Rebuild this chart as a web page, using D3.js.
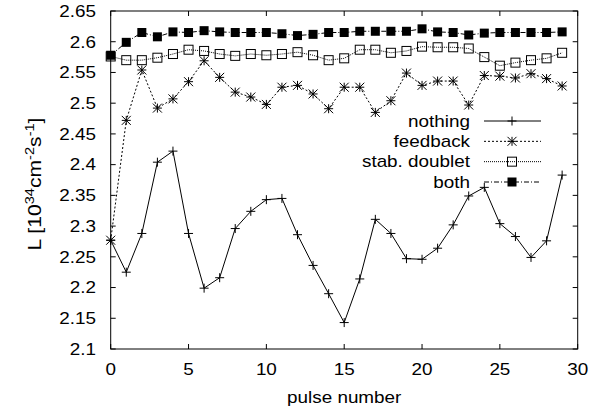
<!DOCTYPE html>
<html><head><meta charset="utf-8">
<script src="https://cdn.jsdelivr.net/npm/d3@7"></script>
<style>body{margin:0;background:#fff} text{font-family:"Liberation Sans",Arial,Helvetica,sans-serif;fill:#000}</style>
</head><body><svg id="c" width="597" height="418"></svg>
<script>
const pulses = [0,1,2,3,4,5,6,7,8,9,10,11,12,13,14,15,16,17,18,19,20,21,22,23,24,25,26,27,28,29];
const nothing = [2.277,2.225,2.288,2.404,2.422,2.288,2.199,2.216,2.296,2.324,2.343,2.345,2.286,2.236,2.190,2.143,2.214,2.311,2.288,2.247,2.246,2.264,2.302,2.349,2.363,2.304,2.283,2.249,2.276,2.383];
const feedback = [2.277,2.472,2.554,2.492,2.507,2.535,2.569,2.542,2.518,2.510,2.498,2.526,2.529,2.515,2.491,2.526,2.526,2.485,2.504,2.549,2.529,2.536,2.536,2.497,2.545,2.544,2.541,2.548,2.540,2.528];
const stabDoublet = [2.576,2.570,2.570,2.574,2.580,2.587,2.585,2.580,2.577,2.580,2.578,2.580,2.583,2.578,2.570,2.573,2.587,2.587,2.582,2.585,2.592,2.591,2.591,2.589,2.575,2.561,2.566,2.570,2.573,2.582];
const both = [2.578,2.599,2.615,2.608,2.616,2.615,2.618,2.616,2.615,2.615,2.615,2.613,2.610,2.612,2.615,2.615,2.617,2.617,2.617,2.617,2.621,2.616,2.615,2.611,2.614,2.615,2.615,2.615,2.615,2.616];
const seriesNames = ["nothing","feedback","stab. doublet","both"];
const xTicks = [0,5,10,15,20,25,30];
const yTicks = [2.1,2.15,2.2,2.25,2.3,2.35,2.4,2.45,2.5,2.55,2.6,2.65];
const yTickLabels = ["2.1","2.15","2.2","2.25","2.3","2.35","2.4","2.45","2.5","2.55","2.6","2.65"];

const SX = 1.18, FS = 16;
const svg = d3.select("#c");
const x = d3.scaleLinear().domain([0,30]).range([110.7,577.7]);
const y = d3.scaleLinear().domain([2.1,2.65]).range([349,11]);
const L = x.range()[0], R = x.range()[1], T = y.range()[1], B = y.range()[0];

function stext(g, tx, ty, str, anchor){
  return g.append("text").attr("transform",`translate(${tx},${ty}) scale(${SX},1)`)
    .attr("text-anchor",anchor).style("font-size",FS+"px").text(str);
}

// ticks (inward on all four sides)
const tk = 5;
const axes = svg.append("g").attr("stroke","#000").attr("stroke-width",1);
xTicks.forEach(v=>{
  axes.append("line").attr("x1",x(v)).attr("x2",x(v)).attr("y1",B).attr("y2",B-tk);
  axes.append("line").attr("x1",x(v)).attr("x2",x(v)).attr("y1",T).attr("y2",T+tk);
});
yTicks.forEach(v=>{
  axes.append("line").attr("x1",L).attr("x2",L+tk).attr("y1",y(v)).attr("y2",y(v));
  axes.append("line").attr("x1",R).attr("x2",R-tk).attr("y1",y(v)).attr("y2",y(v));
});
svg.append("rect").attr("x",L).attr("y",T).attr("width",R-L).attr("height",B-T)
  .attr("fill","none").attr("stroke","#000").attr("stroke-width",1);

// tick labels
xTicks.forEach(v=> stext(svg, x(v), 375, String(v), "middle"));
yTicks.forEach((v,i)=> stext(svg, 96, y(v)+5.8, yTickLabels[i], "end"));

// axis titles
stext(svg, (L+R)/2, 403, "pulse number", "middle");
const yl = svg.append("text").attr("transform","translate(41,184) rotate(-90) scale(1.12,1)")
  .attr("text-anchor","middle").style("font-size",FS*SX+"px");
yl.append("tspan").text("L [10");
yl.append("tspan").attr("dy",-7).style("font-size","13px").text("34");
yl.append("tspan").attr("dy",7).text("cm");
yl.append("tspan").attr("dy",-7).style("font-size","13px").text("-2");
yl.append("tspan").attr("dy",7).text("s");
yl.append("tspan").attr("dy",-7).style("font-size","13px").text("-1");
yl.append("tspan").attr("dy",7).text("]");

// series
const series = [
  {name:seriesNames[0], vals:nothing, dash:null, mk:"plus"},
  {name:seriesNames[1], vals:feedback, dash:"2,2", mk:"star"},
  {name:seriesNames[2], vals:stabDoublet, dash:"1,1", mk:"osq"},
  {name:seriesNames[3], vals:both, dash:"5,2,1,2", mk:"fsq"}
];
function marker(g, cx, cy, type){
  const h = 4.5;
  if(type==="plus"){
    g.append("path").attr("d",`M${cx-h},${cy}H${cx+h}M${cx},${cy-h}V${cy+h}`).attr("stroke","#000").attr("fill","none");
  } else if(type==="star"){
    g.append("path").attr("d",`M${cx-h},${cy}H${cx+h}M${cx},${cy-h}V${cy+h}M${cx-h},${cy-h}L${cx+h},${cy+h}M${cx-h},${cy+h}L${cx+h},${cy-h}`).attr("stroke","#000").attr("fill","none");
  } else if(type==="osq"){
    g.append("rect").attr("x",cx-h).attr("y",cy-h).attr("width",2*h).attr("height",2*h).attr("fill","none").attr("stroke","#000");
  } else {
    g.append("rect").attr("x",cx-h).attr("y",cy-h).attr("width",2*h).attr("height",2*h).attr("fill","#000");
  }
}
const line = d3.line().x((d,i)=>x(pulses[i])).y(d=>y(d));
series.forEach(s=>{
  const g = svg.append("g");
  g.append("path").attr("d",line(s.vals)).attr("fill","none").attr("stroke","#000").attr("stroke-width",1)
    .attr("stroke-dasharray",s.dash);
  s.vals.forEach((v,i)=>marker(g, x(pulses[i]), y(v), s.mk));
});

// legend
const legY = d3.scaleLinear().domain([0,3]).range([121,182]);
series.forEach((s,i)=>{
  const ly = legY(i);
  stext(svg, 470, ly+5.8, s.name, "end");
  svg.append("line").attr("x1",484).attr("x2",541).attr("y1",ly).attr("y2",ly)
    .attr("stroke","#000").attr("stroke-dasharray",s.dash);
  marker(svg, 512, ly, s.mk);
});
</script></body></html>
